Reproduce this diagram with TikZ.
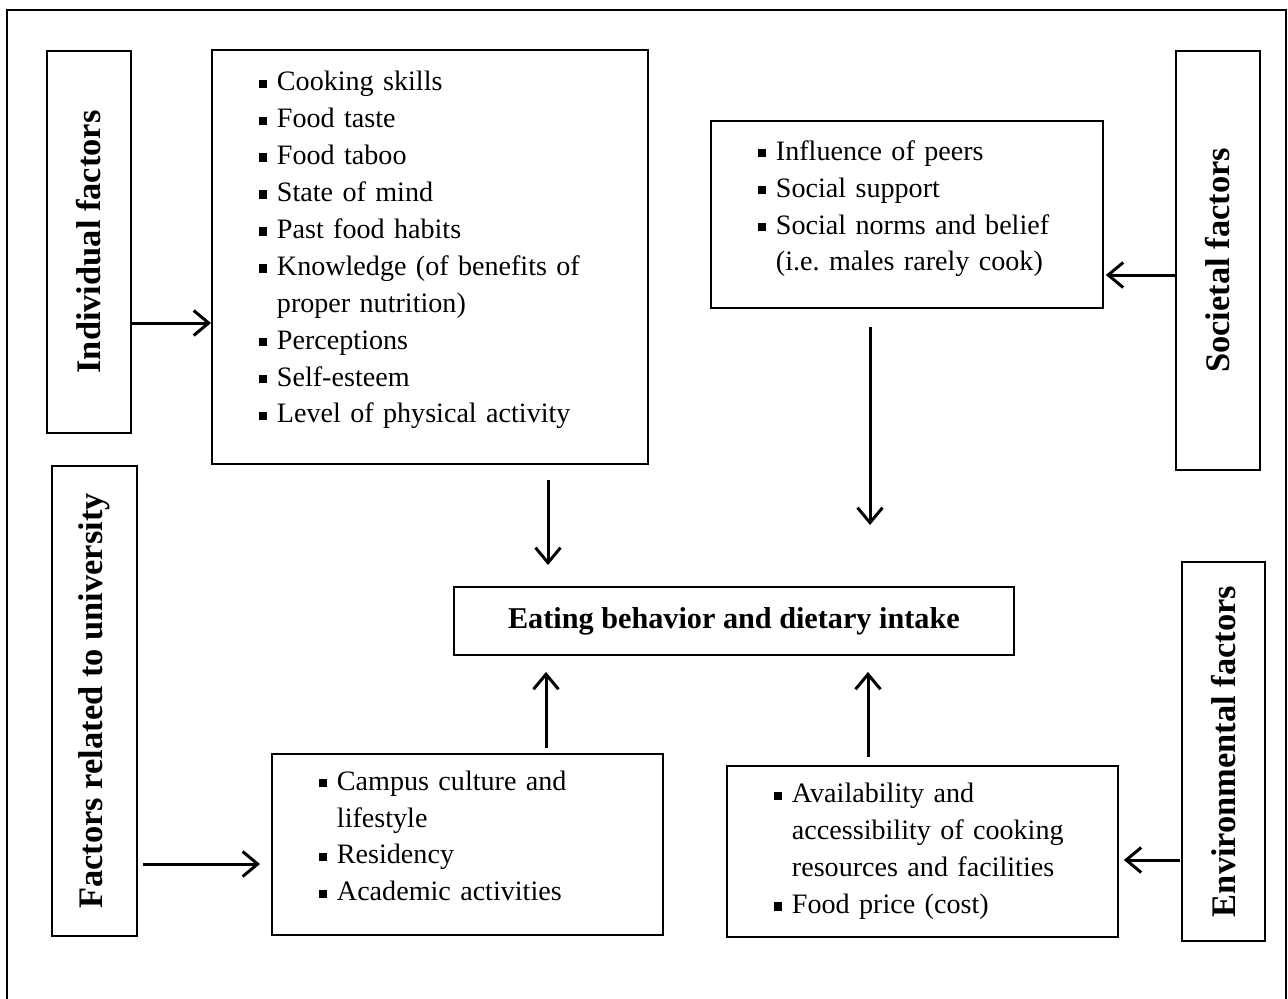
\documentclass[tikz,border=0pt]{standalone}
\usepackage{fontspec}
\setmainfont{Liberation Serif}
\usetikzlibrary{arrows.meta,calc}
\newcommand{\itm}{\makebox[0.36cm][l]{\rule[0.1em]{0.3em}{0.3em}}}
\newcommand{\cont}{\hspace*{0.36cm}}
\newcommand{\lift}[1]{\rule[-#1]{0pt}{1pt}}
\tikzset{
    frame/.style={draw,line width=1.1pt},
    listbox/.style={draw,line width=1.1pt,align=left,inner xsep=0.94cm,inner ysep=0pt,
        anchor=north west,font=\fontsize{16}{21}\selectfont},
    sidebox/.style={draw,line width=1.1pt,anchor=north west,inner sep=0pt,
        font=\fontsize{19.6}{22}\selectfont\bfseries},
    arr/.style={-{Straight Barb[length=0.3cm,width=0.5cm]},line width=1.7pt},
}
\begin{document}
\begin{tikzpicture}[x=0.02cm,y=-0.02cm]
\useasboundingbox (0,0) rectangle (1288,998);
\draw[frame] (7,1010) -- (7,10) -- (1286,10) -- (1286,1010);
% side factors
\node[sidebox,minimum width=1.68cm,minimum height=7.64cm] (ind) at (46,50) {\rotatebox{90}{Individual factors}};
\node[sidebox,minimum width=1.68cm,minimum height=8.38cm] (soc) at (1175,50) {\rotatebox{90}{Societal factors}};
\node[sidebox,minimum width=1.70cm,minimum height=9.40cm] (uni) at (51,465) {\rotatebox{90}{Factors related to university}};
\node[sidebox,minimum width=1.66cm,minimum height=7.58cm] (env) at (1181,561) {\rotatebox{90}{Environmental factors}};
% lists
\node[listbox,minimum width=8.72cm,minimum height=8.28cm,text width=6.84cm] (indl) at (211,49) {
\itm Cooking skills\\
\itm Food taste\\
\itm Food taboo\\
\itm State of mind\\
\itm Past food habits\\
\itm Knowledge (of benefits of\\
\cont proper nutrition)\\
\itm Perceptions\\
\itm Self-esteem\\
\itm Level of physical activity\lift{0.39cm}};
\node[listbox,minimum width=7.84cm,minimum height=3.74cm,text width=5.96cm] (socl) at (710,120) {
\itm Influence of peers\\
\itm Social support\\
\itm Social norms and belief\\
\cont (i.e.\ males rarely cook)\lift{0.35cm}};
\node[listbox,minimum width=7.82cm,minimum height=3.62cm,text width=5.94cm] (unil) at (271,753) {
\itm Campus culture and\\
\cont lifestyle\\
\itm Residency\\
\itm Academic activities\lift{0.35cm}};
\node[listbox,minimum width=7.82cm,minimum height=3.42cm,text width=5.94cm] (envl) at (726,765) {
\itm Availability and\\
\cont accessibility of cooking\\
\cont resources and facilities\\
\itm Food price (cost)};
% outcome
\node[draw,line width=1.1pt,anchor=north west,minimum width=11.2cm,minimum height=1.36cm,
    font=\fontsize{17.2}{20}\selectfont\bfseries] (eat) at (453,586) {Eating behavior and dietary intake};
% arrows
\draw[arr] (ind.east |- 0,323) -- (indl.west |- 0,323);
\draw[arr] (soc.west |- 0,275) -- ($(socl.east |- 0,275)+(2,0)$);
\draw[arr] ($(uni.east |- 0,864)+(5,0)$) -- ($(unil.west |- 0,864)+(-11,0)$);
\draw[arr] ($(env.west |- 0,860)+(-1,0)$) -- ($(envl.east |- 0,860)+(5,0)$);
\draw[arr] ($(indl.south -| 548,0)+(0,15)$) -- ($(eat.north -| 548,0)+(0,-21)$);
\draw[arr] ($(socl.south -| 870,0)+(0,18)$) -- ($(eat.north -| 870,0)+(0,-61)$);
\draw[arr] ($(unil.north -| 546,0)+(0,-5)$) -- ($(eat.south -| 546,0)+(0,16)$);
\draw[arr] ($(envl.north -| 868,0)+(0,-8)$) -- ($(eat.south -| 868,0)+(0,16)$);
\end{tikzpicture}
\end{document}
